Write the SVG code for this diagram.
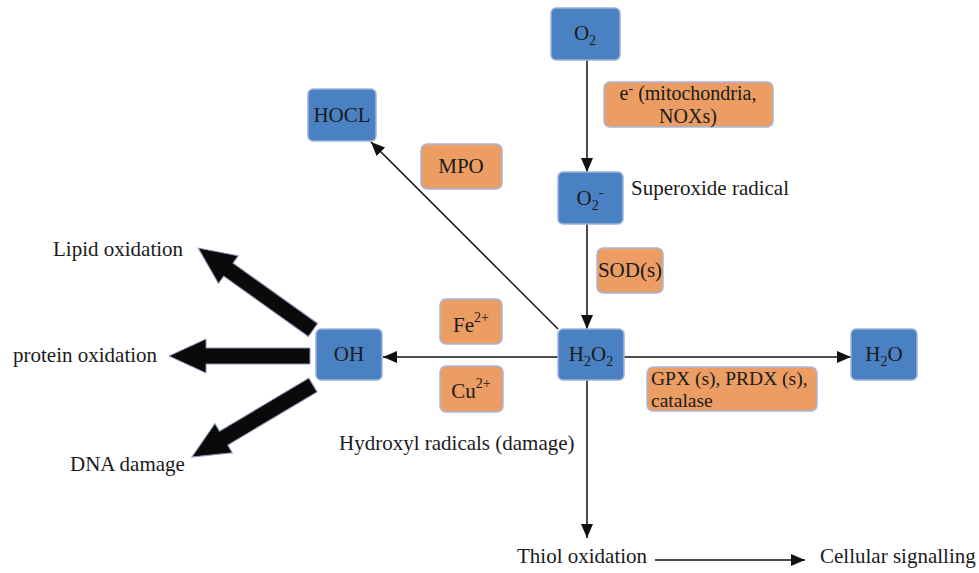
<svg xmlns="http://www.w3.org/2000/svg" xmlns:xlink="http://www.w3.org/1999/xlink" width="979" height="573" viewBox="0 0 979 573">
<style>
text{font-family:"Liberation Serif","DejaVu Serif",serif;font-size:21px;fill:#1a1a1a}
.b{fill:#4a81c2;stroke:#9fb3db;stroke-width:1.5}
.o{fill:#eb9d63;stroke:#a9b7dc;stroke-width:1.5}
.c{text-anchor:middle}
.ln{stroke:#111;stroke-width:1.5;fill:none}
.fat{fill:#0a0a0a;stroke:#8c97b8;stroke-width:1}
.s{font-size:14px}
.g{font-size:19.5px}
.e{font-size:20px}
</style>
<defs>
<marker id="ah" markerUnits="userSpaceOnUse" markerWidth="14" markerHeight="14" viewBox="0 0 14 14" refX="14" refY="7" orient="auto">
<path d="M0,1 L14,7 L0,13 Z" fill="#111"/>
</marker>
<path id="fat" d="M0,-8 L104,-8 L104,-17 L141,0 L104,17 L104,8 L0,8 Z"/>
</defs>
<g id="connectors">
<line class="ln" x1="587" y1="60" x2="587" y2="172" marker-end="url(#ah)"/>
<line class="ln" x1="587" y1="224" x2="587" y2="329" marker-end="url(#ah)"/>
<line class="ln" x1="558" y1="329" x2="371" y2="142" marker-end="url(#ah)"/>
<line class="ln" x1="558" y1="357" x2="383" y2="357" marker-end="url(#ah)"/>
<line class="ln" x1="624" y1="357" x2="851" y2="357" marker-end="url(#ah)"/>
<line class="ln" x1="587" y1="380" x2="587" y2="538" marker-end="url(#ah)"/>
<line class="ln" x1="655" y1="560" x2="805" y2="560" marker-end="url(#ah)"/>
<use xlink:href="#fat" class="fat" transform="translate(313,330) rotate(-144.5)"/>
<use xlink:href="#fat" class="fat" transform="translate(310,356) rotate(180)"/>
<use xlink:href="#fat" class="fat" transform="translate(313,385) rotate(149.25)"/>
</g>
<g id="o2">
<rect class="b" x="551" y="8" width="69" height="52" rx="5"/>
<text class="c" x="585" y="40">O<tspan class="s" dy="5">2</tspan></text>
</g>
<g id="e-source">
<rect class="o" x="604" y="82" width="169" height="45" rx="6"/>
<text class="c e" x="688" y="100">e<tspan class="s" dy="-7">-</tspan><tspan dy="7"> (mitochondria,</tspan></text>
<text class="c e" x="688" y="123">NOXs)</text>
</g>
<g id="o2minus">
<rect class="b" x="558" y="172" width="65" height="52" rx="5"/>
<text class="c" x="590" y="205">O<tspan class="s" dy="5">2</tspan><tspan class="s" dy="-13">-</tspan></text>
<text x="631" y="195">Superoxide radical</text>
</g>
<g id="hocl">
<rect class="b" x="308" y="89" width="68" height="52" rx="5"/>
<text class="c" x="342" y="122">HOCL</text>
</g>
<g id="mpo">
<rect class="o" x="421" y="144" width="81" height="45" rx="6"/>
<text class="c" x="461" y="173">MPO</text>
</g>
<g id="sod">
<rect class="o" x="597" y="248" width="66" height="45" rx="6"/>
<text class="c" x="630" y="277">SOD(s)</text>
</g>
<g id="h2o2">
<rect class="b" x="558" y="329" width="66" height="51" rx="5"/>
<text class="c" x="591" y="361">H<tspan class="s" dy="5">2</tspan><tspan dy="-5">O</tspan><tspan class="s" dy="5">2</tspan></text>
</g>
<g id="fe">
<rect class="o" x="440" y="299" width="62" height="45" rx="6"/>
<text class="c" x="471" y="332">Fe<tspan class="s" dy="-10">2+</tspan></text>
</g>
<g id="cu">
<rect class="o" x="440" y="366" width="63" height="46" rx="6"/>
<text class="c" x="471" y="398">Cu<tspan class="s" dy="-10">2+</tspan></text>
</g>
<g id="gpx">
<rect class="o" x="647" y="367" width="170" height="44" rx="6"/>
<text class="g" x="651" y="385">GPX (s), PRDX (s),</text>
<text class="g" x="651" y="407">catalase</text>
</g>
<g id="h2o">
<rect class="b" x="851" y="329" width="66" height="51" rx="5"/>
<text class="c" x="884" y="361">H<tspan class="s" dy="5">2</tspan><tspan dy="-5">O</tspan></text>
</g>
<g id="oh">
<rect class="b" x="316" y="329" width="66" height="51" rx="5"/>
<text class="c" x="349" y="361">OH</text>
<text x="339" y="450">Hydroxyl radicals (damage)</text>
</g>
<g id="lipid"><text x="53" y="256">Lipid oxidation</text></g>
<g id="protein"><text x="13" y="362">protein oxidation</text></g>
<g id="dna"><text x="70" y="471">DNA damage</text></g>
<g id="thiol"><text x="517" y="563">Thiol oxidation</text></g>
<g id="signal"><text x="820" y="563">Cellular signalling</text></g>
</svg>
